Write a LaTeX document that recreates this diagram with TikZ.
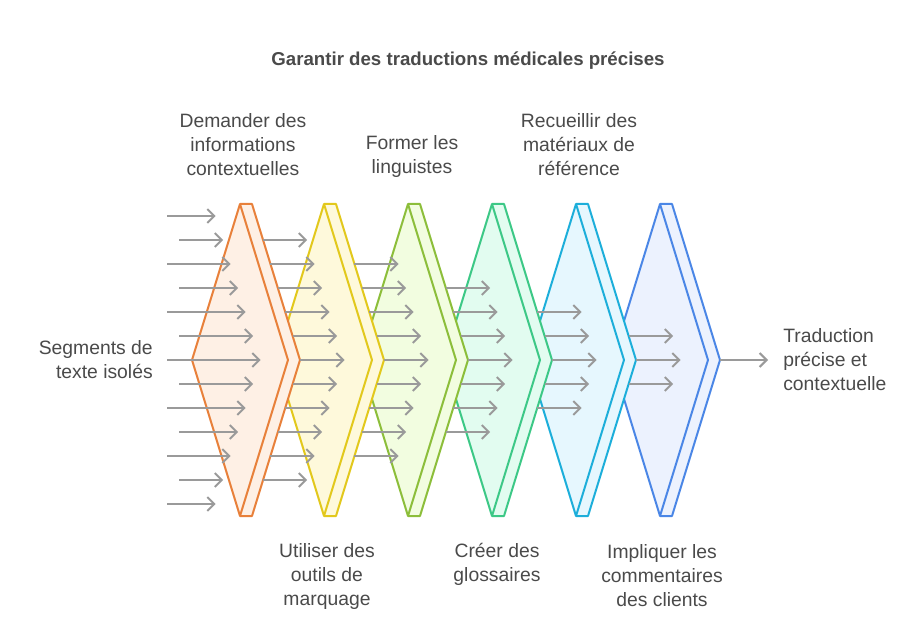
\documentclass[tikz,border=0pt]{standalone}
\usepackage{fontspec}
\setmainfont{Liberation Sans}
\usetikzlibrary{arrows.meta}

\definecolor{ink}{HTML}{4A4A4A}
\definecolor{flow}{HTML}{9A9A9A}
\definecolor{lineA}{HTML}{E8803A}\definecolor{fillA}{HTML}{FEF0E5}
\definecolor{lineB}{HTML}{E2C81C}\definecolor{fillB}{HTML}{FEF9DB}
\definecolor{lineC}{HTML}{8CBE3A}\definecolor{fillC}{HTML}{F2FDE0}
\definecolor{lineD}{HTML}{3CC886}\definecolor{fillD}{HTML}{E2FCF0}
\definecolor{lineE}{HTML}{1CAEDA}\definecolor{fillE}{HTML}{E6F7FE}
\definecolor{lineF}{HTML}{4A86E6}\definecolor{fillF}{HTML}{ECF2FE}

\tikzset{
  chevron/.style={line width=1.5pt, line join=round},
  flowarrow/.style={draw=flow, line width=1.5pt, -{Straight Barb[length=5.25pt,width=10.5pt]}},
  label/.style={text=ink, inner sep=0pt, font=\fontsize{14.5}{18}\selectfont},
}

\begin{document}
\begin{tikzpicture}[x=0.75pt,y=-0.75pt]
\useasboundingbox (0,0) rectangle (924,627);

\node[label,font=\bfseries\fontsize{14}{18}\selectfont] (title) at (468,61) {Garantir des traductions médicales précises};

% chevrons, drawn from right to left
\foreach \k/\c in {6/F,5/E,4/D,3/C,2/B,1/A}{
  \pgfmathsetmacro{\cx}{240+84*(\k-1)}
  \filldraw[chevron,draw=line\c,fill=fill\c] (\cx,204) -- (\cx+12,204) -- (\cx+60,360) -- (\cx+12,516) -- (\cx,516) -- (\cx-48,360) -- cycle;
  \draw[chevron,draw=line\c] (\cx,204) -- (\cx+48,360) -- (\cx,516);
}

% incoming arrows
\foreach \j in {-6,...,6}{
  \pgfmathsetmacro{\xs}{ifthenelse(mod(abs(\j),2)==1,179,167)}
  \draw[flowarrow] (\xs,{360+24*\j}) -- ({260.7-7.5*abs(\j)},{360+24*\j});
}
\foreach \k in {2,...,6}{
  \pgfmathtruncatemacro{\n}{7-\k}
  \foreach \j in {-\n,...,\n}{
    \draw[flowarrow] ({240+84*(\k-2)+60-7.385*abs(\j)},{360+24*\j}) -- ({260.7+84*(\k-1)-7.5*abs(\j)},{360+24*\j});
  }
}

\coordinate (exit) at (720,360);
\coordinate (outtip) at (768,360);
\draw[flowarrow] (exit) -- (outtip);

\node[label,align=right,anchor=east] (input) at (153,360) {Segments de\\texte isolés};
\node[label,align=left,anchor=west] (output) at (783,360) {Traduction\\précise et\\contextuelle};

\node[label,align=center] (ask) at (243,145) {Demander des\\informations\\contextuelles};
\node[label,align=center] (train) at (412,157) {Former les\\linguistes};
\node[label,align=center] (gather) at (579,145) {Recueillir des\\matériaux de\\référence};

\node[label,align=center] (tag) at (327,576) {Utiliser des\\outils de\\marquage};
\node[label,align=center] (gloss) at (497,564) {Créer des\\glossaires};
\node[label,align=center] (client) at (662,576) {Impliquer les\\commentaires\\des clients};

\end{tikzpicture}
\end{document}
